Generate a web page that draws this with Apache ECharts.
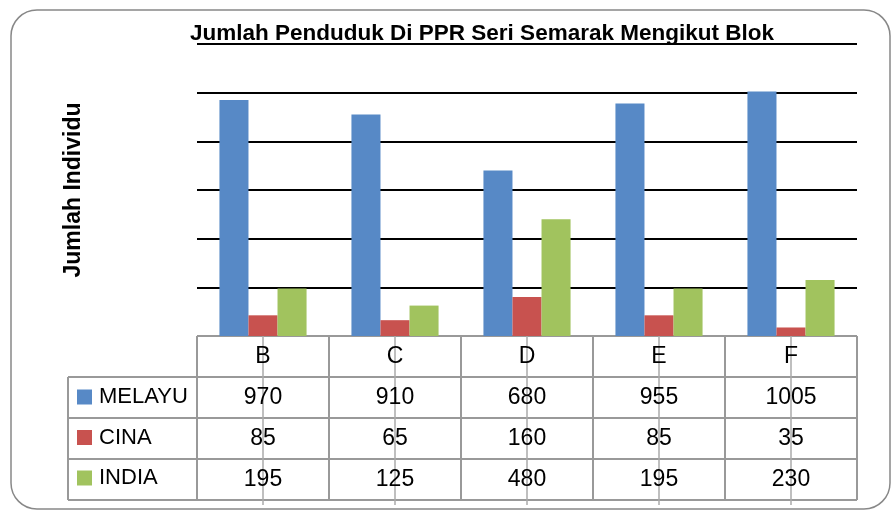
<!DOCTYPE html>
<html>
<head>
<meta charset="utf-8">
<script src="https://cdn.jsdelivr.net/npm/echarts@6/dist/echarts.min.js"></script>
<style>
  html, body { margin: 0; padding: 0; background: #fff; }
  #main { width: 894px; height: 513px; }
</style>
</head>
<body>
<div id="main"></div>
<script>
// data
var categories = ['B', 'C', 'D', 'E', 'F'];
var seriesNames = ['MELAYU', 'CINA', 'INDIA'];
var melayu = [970, 910, 680, 955, 1005];
var cina = [85, 65, 160, 85, 35];
var india = [195, 125, 480, 195, 230];
var seriesData = [melayu, cina, india];
var colors = ['#5789C6', '#C8524F', '#A1C35E'];

var FONT = '"Liberation Sans", Arial, sans-serif';
var ROW_H = 41;
var LEGEND_LEFT = 68;

var chart = echarts.init(document.getElementById('main'));

var series = seriesNames.map(function (name, i) {
    return {
        name: name,
        type: 'bar',
        data: seriesData[i],
        barGap: '0%',
        barCategoryGap: '34%',
        itemStyle: {color: colors[i]}
    };
});

chart.setOption({
    animation: false,
    textStyle: {fontFamily: FONT},
    title: {
        text: 'Jumlah Penduduk Di PPR Seri Semarak Mengikut Blok',
        left: 482,
        top: 22,
        padding: 0,
        textAlign: 'center',
        textStyle: {fontSize: 22.5, fontWeight: 'bold', color: '#000', fontFamily: FONT}
    },
    legend: {
        orient: 'vertical',
        left: 77,
        top: 386,
        padding: 0,
        icon: 'rect',
        itemWidth: 15,
        itemHeight: 15,
        itemGap: 18.5,
        selectedMode: false,
        data: seriesNames,
        textStyle: {fontSize: 22, color: '#000', padding: [0, 0, 0, 2]}
    },
    grid: {left: 197, right: 37, top: 44, bottom: 177},
    xAxis: {
        type: 'category',
        data: categories,
        axisLine: {show: false},
        axisTick: {show: false},
        axisLabel: {show: false}
    },
    yAxis: {
        type: 'value',
        min: 0,
        max: 1200,
        interval: 200,
        name: 'Jumlah Individu',
        nameLocation: 'middle',
        nameGap: 112,
        nameRotate: 90,
        nameTextStyle: {fontSize: 23, fontWeight: 'bold', color: '#000'},
        axisLine: {show: false},
        axisTick: {show: false},
        axisLabel: {show: false},
        splitLine: {lineStyle: {color: '#000', width: 2}}
    },
    series: series
});

// data table under the plot, placed from the x axis scale
function drawTable() {
    var c0 = chart.convertToPixel({xAxisIndex: 0}, categories[0]);
    var c1 = chart.convertToPixel({xAxisIndex: 0}, categories[1]);
    var step = c1 - c0;
    var left = c0 - step / 2;
    var right = left + step * categories.length;
    var top = chart.convertToPixel({yAxisIndex: 0}, 0);
    var bottom = top + ROW_H * (seriesNames.length + 1);
    var lineStyle = {stroke: '#999', lineWidth: 2};
    var els = [];

    // horizontal rules
    els.push({type: 'line', shape: {x1: left, y1: top, x2: right, y2: top}, style: lineStyle});
    for (var r = 1; r <= seriesNames.length + 1; r++) {
        var y = top + ROW_H * r;
        els.push({type: 'line', shape: {x1: LEGEND_LEFT, y1: y, x2: right, y2: y}, style: lineStyle});
    }
    // vertical rules
    els.push({type: 'line', shape: {x1: LEGEND_LEFT, y1: top + ROW_H, x2: LEGEND_LEFT, y2: bottom}, style: lineStyle});
    for (var k = 0; k <= categories.length; k++) {
        var x = left + step * k;
        els.push({type: 'line', shape: {x1: x, y1: top, x2: x, y2: bottom}, style: lineStyle});
    }
    // tick marks running through the table, and the cell texts
    categories.forEach(function (cat, j) {
        var cx = chart.convertToPixel({xAxisIndex: 0}, cat);
        els.push({type: 'line', shape: {x1: cx, y1: top - 7, x2: cx, y2: bottom + 5},
            style: {stroke: '#aaa', lineWidth: 1.5}});
        els.push({type: 'text', x: cx, y: top + ROW_H / 2,
            style: {text: cat, fontSize: 23, fontFamily: FONT, fill: '#000', align: 'center', verticalAlign: 'middle'}});
        seriesData.forEach(function (arr, i) {
            els.push({type: 'text', x: cx, y: top + ROW_H * (i + 1.5),
                style: {text: String(arr[j]), fontSize: 23, fontFamily: FONT, fill: '#000', align: 'center', verticalAlign: 'middle'}});
        });
    });
    // outer rounded frame
    els.push({type: 'rect', shape: {x: 11, y: 10, width: 879, height: 499, r: 26},
        style: {fill: 'none', stroke: '#888', lineWidth: 1.5}});

    chart.setOption({graphic: {elements: els}});
}
drawTable();
</script>
</body>
</html>
